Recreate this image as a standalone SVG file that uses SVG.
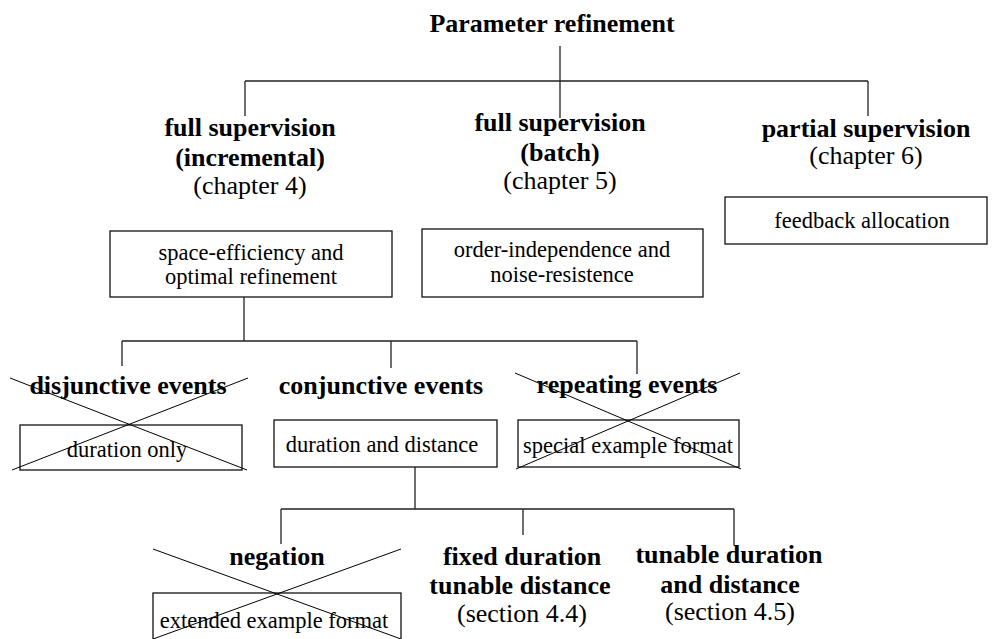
<svg xmlns="http://www.w3.org/2000/svg" width="996" height="639" viewBox="0 0 996 639">
  <style>
    .h { font-family: "Liberation Serif", "Times New Roman", serif; font-weight: bold; font-size: 26px; fill: #000; text-anchor: middle; }
    .n { font-family: "Liberation Serif", "Times New Roman", serif; font-size: 26px; fill: #000; text-anchor: middle; }
    .b { font-family: "Liberation Serif", "Times New Roman", serif; font-size: 22.5px; fill: #000; text-anchor: middle; }
    .box { fill: none; stroke: #111; stroke-width: 1.3; }
    .link { fill: none; stroke: #222; stroke-width: 1.3; }
    .cross { fill: none; stroke: #000; stroke-width: 1; }
  </style>
  <rect width="996" height="639" fill="#fff"/>

  <!-- tree connectors -->
  <g id="connectors">
    <path class="link" d="M560 46V81M245 81H868M245 81V116M560 81V118M868 81V116"/>
    <path class="link" d="M244 297V341M122 341H637M122 341V366M391 341V368M637 341V374"/>
    <path class="link" d="M415 467V509M281 509H734M281 509V544M523 509V535M734 509V545"/>
  </g>

  <g id="root">
    <text class="h" x="552" y="32">Parameter refinement</text>
  </g>

  <g id="full-incremental">
    <text class="h" x="250" y="136">full supervision</text>
    <text class="h" x="250" y="166">(incremental)</text>
    <text class="n" x="250" y="194">(chapter 4)</text>
  </g>

  <g id="full-batch">
    <text class="h" x="560" y="131">full supervision</text>
    <text class="h" x="560" y="161">(batch)</text>
    <text class="n" x="560" y="189">(chapter 5)</text>
  </g>

  <g id="partial">
    <text class="h" x="866" y="137">partial supervision</text>
    <text class="n" x="866" y="164">(chapter 6)</text>
  </g>

  <g id="feedback-allocation">
    <rect class="box" x="725" y="197" width="262" height="47"/>
    <text class="b" x="862" y="228">feedback allocation</text>
  </g>

  <g id="space-efficiency">
    <rect class="box" x="110" y="231" width="282" height="66"/>
    <text class="b" x="251" y="260">space-efficiency and</text>
    <text class="b" x="251" y="284">optimal refinement</text>
  </g>

  <g id="order-independence">
    <rect class="box" x="422" y="229" width="281" height="68"/>
    <text class="b" x="562" y="257">order-independence and</text>
    <text class="b" x="562" y="282">noise-resistence</text>
  </g>

  <g id="disjunctive">
    <text class="h" x="128" y="394">disjunctive events</text>
    <rect class="box" x="20" y="425" width="222" height="45"/>
    <text class="b" x="127" y="457">duration only</text>
    <path class="cross" d="M10 378L247 470M248 378L12 470"/>
  </g>

  <g id="conjunctive">
    <text class="h" x="381" y="394">conjunctive events</text>
    <rect class="box" x="274" y="420" width="223" height="47"/>
    <text class="b" x="382" y="452">duration and distance</text>
  </g>

  <g id="repeating">
    <text class="h" x="627" y="393">repeating events</text>
    <rect class="box" x="518" y="420" width="221" height="47"/>
    <text class="b" x="628" y="453">special example format</text>
    <path class="cross" d="M515 373L741 469M740 373L516 469"/>
  </g>

  <g id="negation">
    <text class="h" x="277" y="565">negation</text>
    <rect class="box" x="153" y="593" width="248" height="50"/>
    <text class="b" x="274" y="628">extended example format</text>
    <path class="cross" d="M153 549L401 639M401 549L153 639"/>
  </g>

  <g id="fixed-duration">
    <text class="h" x="522" y="565">fixed duration</text>
    <text class="h" x="520" y="594">tunable distance</text>
    <text class="n" x="522" y="622">(section 4.4)</text>
  </g>

  <g id="tunable-duration">
    <text class="h" x="729" y="563">tunable duration</text>
    <text class="h" x="730" y="593">and distance</text>
    <text class="n" x="730" y="620">(section 4.5)</text>
  </g>
</svg>
